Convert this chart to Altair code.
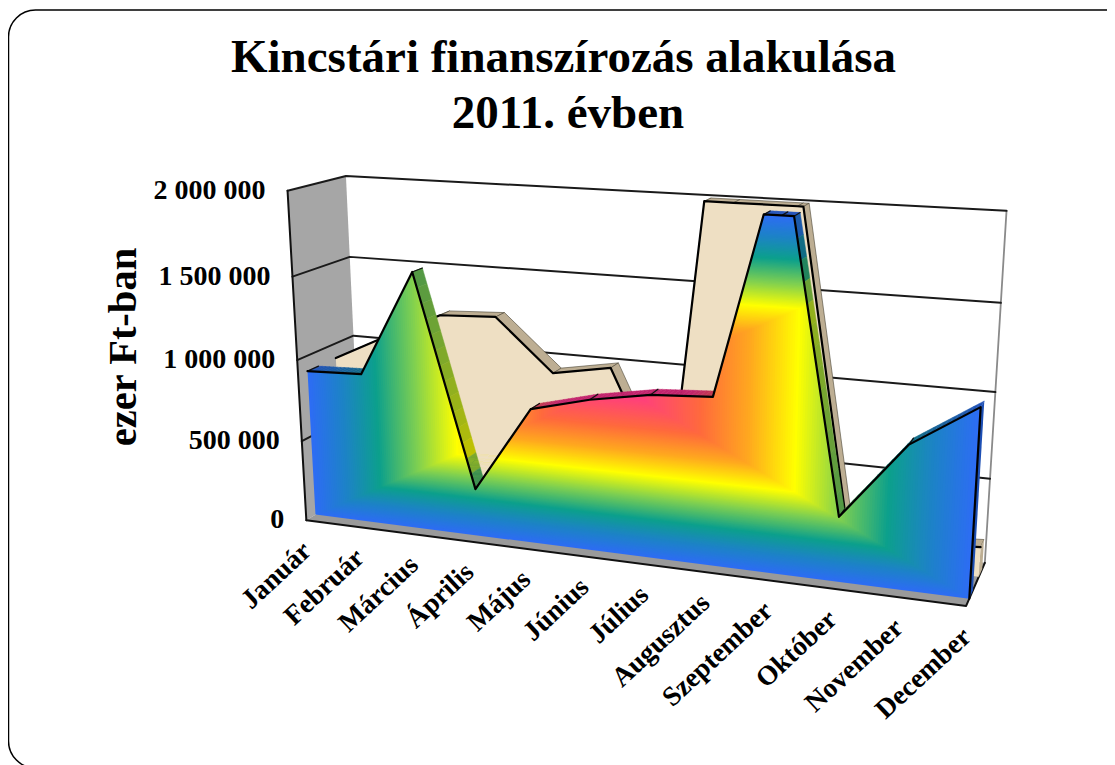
import numpy as np
import pandas as pd
import altair as alt

months = ["Január","Február","Március","Április","Május","Június","Július","Augusztus","Szeptember","Október","November","December"]
front_series = [907000,920000,1556000,288000,810000,899000,961000,983000,2371000,376000,823000,1063000]
back_series = [909000,1077000,1233000,1250000,940000,1003000,268000,3500000,2190000,50000,150000,175000]
y_ticks = [0,500000,1000000,1500000,2000000]
y_labels = ["0","500 000","1 000 000","1 500 000","2 000 000"]
AXIS_MAX = 2000000

# ---- 3D view of the chart box: fitted to the box corners
cal=[((0,0,0),(306,520)),((0,1,0),(287,190)),((0,.75,0),(293,277)),((0,.5,0),(298,360)),((0,.25,0),(302,442)),
((0,1,1),(346,176)),((0,.75,1),(349,257)),((0,.5,1),(354,336)),
((1,0,0),(967,607)),((1,0,1),(985,563)),((1,1,1),(1007,211)),((1,.75,1),(1000,303)),((1,.5,1),(995,392)),((1,.25,1),(991,478)),
((0,0,.16),(315,514)),((1,0,.16),(968,598))]
A=[]
for (u,v,w),(x,y) in cal:
    A.append([u,v,w,1,0,0,0,0,-x*u,-x*v,-x*w,-x])
    A.append([0,0,0,0,u,v,w,1,-y*u,-y*v,-y*w,-y])
P=np.linalg.svd(np.array(A,float))[2][-1].reshape(3,4)
def pr(u,v,w):
    p=P@np.array([u,v,w,1.0]);p=p[:2]/p[2];return float(p[0]),float(p[1])

rows=[]; pid=[0]
def add(pts3, fill="transparent", stroke="transparent", sw=0.0):
    pid[0]+=1
    for k,(u,v,w) in enumerate(pts3):
        x,y=pr(u,v,w)
        rows.append(dict(poly=pid[0],ord=k,x=x,y=y,fill=fill,stroke=stroke,sw=sw))

def top_line(vals):
    n=len(vals)-1; out=[]
    for i,val in enumerate(vals):
        u=i/n; v=val/AXIS_MAX
        if i>0:
            u0=(i-1)/n; v0=vals[i-1]/AXIS_MAX
            if (v0-1)*(v-1)<0:
                c=(1-v0)/(v-v0); out.append((u0+c*(u-u0),1.0))
        out.append((u,min(v,1.0)))
    return out

stops=[(0,(0x2D,0x6C,0xF5)),(.12,(0x1C,0x84,0xC4)),(.23,(0x0C,0xA0,0x8C)),(.36,(0x80,0xD0,0x50)),(.49,(0xFF,0xFF,0x00)),(.62,(0xFF,0xAA,0x1E)),(.76,(0xFF,0x6A,0x3C)),(.95,(0xFF,0x3C,0x82)),(1,(0xFF,0x2E,0x90))]
def col(t,d=1.0):
    t=min(max(t,0),1)
    for (a,ca),(b,cb) in zip(stops,stops[1:]):
        if t<=b:
            f=(t-a)/(b-a); c=[(ca[j]+f*(cb[j]-ca[j]))*d for j in range(3)]
            return "#%02x%02x%02x"%tuple(int(round(q)) for q in c)
    return "#ff2e90"
def grad(u,v): return min(2*u,2-2*u,2*v,2-2*v)
def side_t(t): return t*.92 if t<.5 else min(1,.46+(t-.5)*1.77)

def clip(poly,axis,val,keep_gt):
    out=[]
    for i in range(len(poly)):
        a=poly[i-1]; b=poly[i]
        ina=(a[axis]>=val) if keep_gt else (a[axis]<=val)
        inb=(b[axis]>=val) if keep_gt else (b[axis]<=val)
        if ina!=inb:
            c=(val-a[axis])/(b[axis]-a[axis]); out.append((a[0]+c*(b[0]-a[0]),a[1]+c*(b[1]-a[1])))
        if inb: out.append(b)
    return out

W1=(.16,.35); W2=(.66,.85)

# walls, floor, gridlines
add([(0,0,0),(0,1,0),(0,1,1),(0,0,1)],fill="#a6a6a6")
add([(0,0,0),(1,0,0),(1,0,1),(0,0,1)],fill="#9a9a9a")
add([(1,0,1),(1,1,1)],stroke="#8a8a8a",sw=1.8)
for v in (.25,.5,.75,1.0):
    add([(0,v,0),(0,v,1),(1,v,1)],stroke="#1a1a1a",sw=2)
add([(0,0,0),(0,1,0)],stroke="#111111",sw=2)
add([(0,0,0),(1,0,0),(1,0,1)],stroke="#111111",sw=2)

# back series
tl=top_line(back_series)
TAN="#bdae93"; BEIGE="#eedfc3"
for a,b in zip(tl,tl[1:]):
    add([(a[0],a[1],W2[0]),(b[0],b[1],W2[0]),(b[0],b[1],W2[1]),(a[0],a[1],W2[1]),(a[0],a[1],W2[0])],fill=TAN,stroke="#4a4436",sw=.6)
add([(1,0,W2[0]),(1,tl[-1][1],W2[0]),(1,tl[-1][1],W2[1]),(1,0,W2[1])],fill=TAN)
face=[(0,0)]+tl+[(1,0)]
add([(u,v,W2[0]) for u,v in face],fill=BEIGE)
add([(u,v,W2[0]) for u,v in tl],stroke="#000000",sw=2.2)

# front series: side faces
tl=top_line(front_series)
for a,b in zip(tl,tl[1:]):
    L=14
    for s in range(L):
        f0=s/L; f1=(s+1)/L
        ua,va=a[0]+f0*(b[0]-a[0]),a[1]+f0*(b[1]-a[1])
        ub,vb=a[0]+f1*(b[0]-a[0]),a[1]+f1*(b[1]-a[1])
        c=col(side_t(grad((ua+ub)/2,(va+vb)/2)),.76)
        add([(ua,va,W1[0]),(ub,vb,W1[0]),(ub,vb,W1[1]),(ua,va,W1[1]),(ua,va,W1[0])],fill=c,stroke=c,sw=.5)
    add([(a[0],a[1],W1[0]),(a[0],a[1],W1[1])],stroke="#111111",sw=1.2)
add([(1,0,W1[0]),(1,tl[-1][1],W1[0]),(1,tl[-1][1],W1[1]),(1,0,W1[1])],fill="#1d4fb4")

# front series: rectangular gradient as nested outlines
face=[(0.0,0.0)]+tl+[(1.0,0.0)]
N=150
for k in range(N):
    t=k/N
    lo=t/2; hi=1-t/2
    poly=face
    for axis,val,gt in ((0,lo,True),(0,hi,False),(1,lo,True),(1,hi,False)):
        if len(poly)>=3: poly=clip(poly,axis,val,gt)
    if len(poly)>=3:
        add([(u,v,W1[0]) for u,v in poly],fill=col((k+.5)/N))
add([(u,v,W1[0]) for u,v in tl]+[(1,0,W1[0])],stroke="#000000",sw=2.2)

df=pd.DataFrame(rows)
X=alt.X("x:Q",scale=alt.Scale(domain=[8,1107],nice=False,zero=False),axis=None)
Y=alt.Y("y:Q",scale=alt.Scale(domain=[765,8],nice=False,zero=False),axis=None)

shapes=alt.Chart(df).mark_line(strokeJoin="round",strokeCap="round").encode(
    x=X,y=Y,detail="poly:N",order="ord:Q",
    fill=alt.Fill("fill:N",scale=None),
    stroke=alt.Stroke("stroke:N",scale=None),
    strokeWidth=alt.StrokeWidth("sw:Q",scale=None))

frame=alt.Chart(pd.DataFrame({"x":[8.5],"x2":[1135],"y":[10],"y2":[768]})).mark_rect(
    cornerRadius=27,fill="white",stroke="#000000",strokeWidth=1.5).encode(
    x=X,x2="x2:Q",y=Y,y2="y2:Q")

font="Liberation Serif"
ytxt=pd.DataFrame([dict(x=pr(0,v/AXIS_MAX,0)[0]-22,y=pr(0,v/AXIS_MAX,0)[1],t=l) for v,l in zip(y_ticks,y_labels)])
ylab=alt.Chart(ytxt).mark_text(font=font,fontWeight="bold",fontSize=28,align="right",baseline="middle",color="#000").encode(x=X,y=Y,text="t:N")
xtxt=pd.DataFrame([dict(x=pr(i/11,0,0)[0]+1,y=pr(i/11,0,0)[1]+27,t=m) for i,m in enumerate(months)])
xlab=alt.Chart(xtxt).mark_text(font=font,fontWeight="bold",fontSize=27.5,align="right",baseline="middle",angle=317,color="#000").encode(x=X,y=Y,text="t:N")
ttl=pd.DataFrame({"x":[563.5,568],"y":[72,128],"t":["Kincstári finanszírozás alakulása","2011. évben"]})
title=alt.Chart(ttl).mark_text(font=font,fontWeight="bold",fontSize=47,align="center",baseline="alphabetic",color="#000").encode(x=X,y=Y,text="t:N")
yt=alt.Chart(pd.DataFrame({"x":[136],"y":[347],"t":["ezer Ft-ban"]})).mark_text(font=font,fontWeight="bold",fontSize=40.5,angle=270,align="center",baseline="alphabetic",color="#000").encode(x=X,y=Y,text="t:N")

chart=alt.layer(frame,shapes,ylab,xlab,title,yt).properties(width=1099,height=757,padding=0,autosize=alt.AutoSizeParams(type="none"),background="white").configure_view(stroke=None)
chart.save("out.html",embed_options={"renderer":"svg","actions":False})
